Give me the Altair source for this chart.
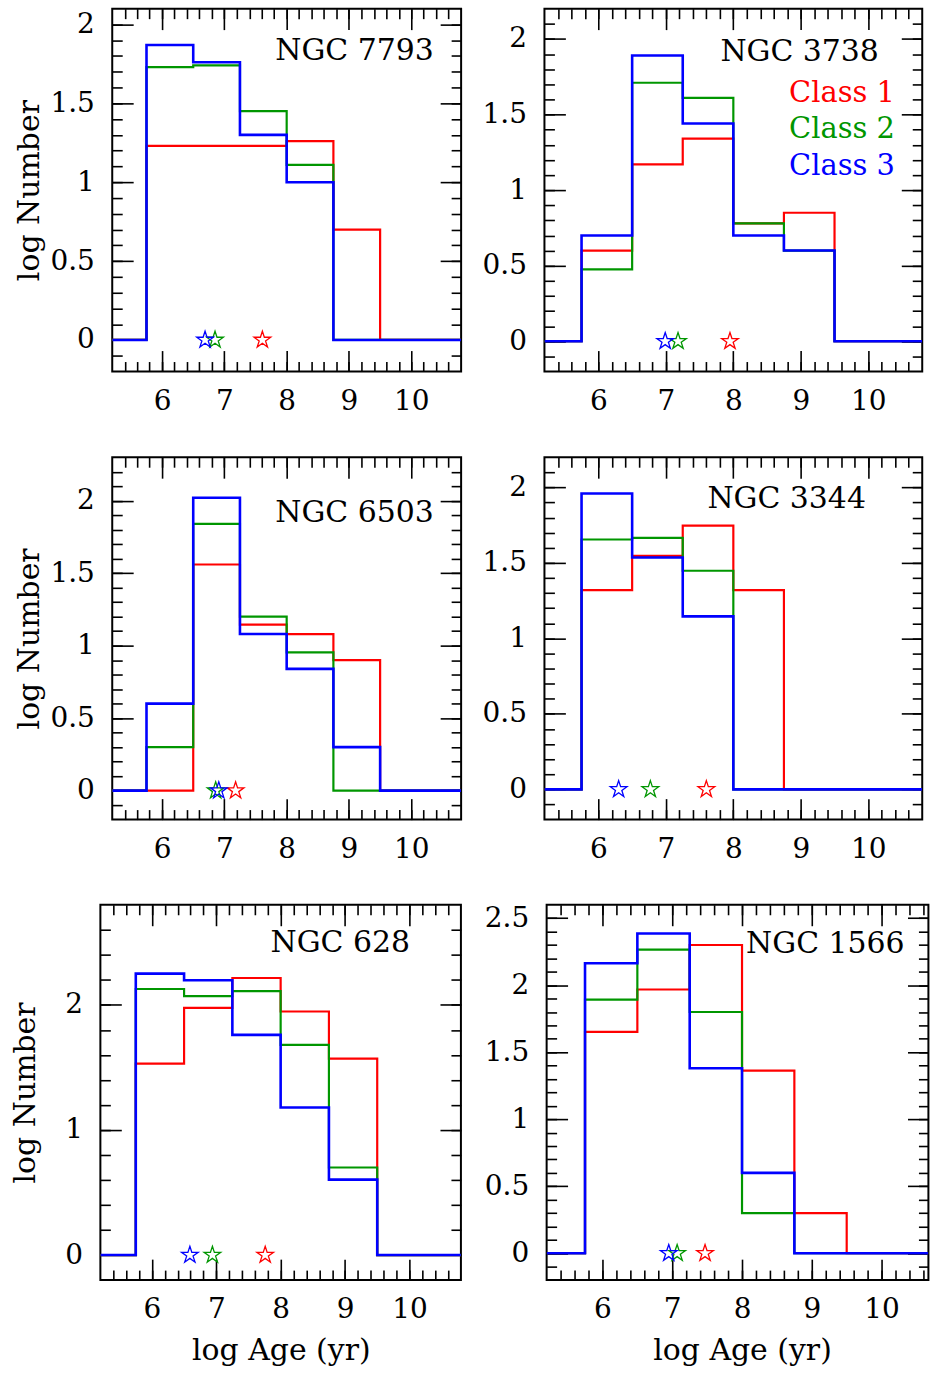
import altair as alt
import pandas as pd

FONT = "DejaVu Serif"
CLASSES = ["Class 1", "Class 2", "Class 3"]
COLORS = ["#ff0000", "#009600", "#0000ff"]
LINE_W = [2.2, 2.2, 2.6]
STAR_PATH = ("M0,-1L0.2245,-0.309L0.951,-0.309L0.363,0.118L0.588,0.809L0,0.382"
             "L-0.588,0.809L-0.363,0.118L-0.951,-0.309L-0.2245,-0.309Z")

GALAXIES = ["NGC 7793", "NGC 3738", "NGC 6503", "NGC 3344", "NGC 628", "NGC 1566"]
# left edges of the non-empty log-age bins, last bin ends at 9.5
BIN_LEFT = [5.75, 6.5, 7.25, 8.0, 8.75]
BIN_END = 9.5

# log Number per bin (Class 1, Class 2, Class 3)
N7793_C1 = [1.23, 1.23, 1.23, 1.26, 0.70]
N7793_C2 = [1.73, 1.74, 1.45, 1.11, 0.0]
N7793_C3 = [1.87, 1.76, 1.30, 1.00, 0.0]
N3738_C1 = [0.60, 1.17, 1.34, 0.78, 0.85]
N3738_C2 = [0.475, 1.71, 1.61, 0.78, 0.60]
N3738_C3 = [0.70, 1.89, 1.44, 0.70, 0.60]
N6503_C1 = [0.0, 1.56, 1.145, 1.08, 0.90]
N6503_C2 = [0.30, 1.84, 1.20, 0.954, 0.0]
N6503_C3 = [0.60, 2.02, 1.08, 0.84, 0.30]
N3344_C1 = [1.32, 1.547, 1.747, 1.32, 0.0]
N3344_C2 = [1.655, 1.666, 1.448, 0.0, 0.0]
N3344_C3 = [1.96, 1.536, 1.146, 0.0, 0.0]
N628_C1 = [1.53, 1.976, 2.215, 1.947, 1.57]
N628_C2 = [2.127, 2.07, 2.11, 1.68, 0.70]
N628_C3 = [2.25, 2.197, 1.76, 1.18, 0.603]
N1566_C1 = [1.652, 1.968, 2.30, 1.363, 0.30]
N1566_C2 = [1.893, 2.266, 1.80, 0.30, 0.0]
N1566_C3 = [2.164, 2.386, 1.38, 0.60, 0.0]

# mean log age (stars) per class
N7793_STARS = [7.61, 6.85, 6.69]
N3738_STARS = [7.95, 7.18, 6.99]
N6503_STARS = [7.18, 6.86, 6.91]
N3344_STARS = [7.60, 6.77, 6.30]
N628_STARS = [7.76, 6.94, 6.59]
N1566_STARS = [7.47, 7.07, 6.95]

VALUES = [
    [N7793_C1, N7793_C2, N7793_C3],
    [N3738_C1, N3738_C2, N3738_C3],
    [N6503_C1, N6503_C2, N6503_C3],
    [N3344_C1, N3344_C2, N3344_C3],
    [N628_C1, N628_C2, N628_C3],
    [N1566_C1, N1566_C2, N1566_C3],
]
STARS = [N7793_STARS, N3738_STARS, N6503_STARS, N3344_STARS, N628_STARS, N1566_STARS]

X_MAJOR = [6, 7, 8, 9, 10]
X_MINOR = [round(5.4 + 0.2 * i, 1) for i in range(27)]
Y_MAJ_HALF = [0, 0.5, 1, 1.5, 2]

# layout (pixels) for each panel
PANELS = [
    dict(w=350, h=364, xdom=(5.2, 10.8), ydom=(-0.2, 2.1), ymaj=Y_MAJ_HALF, ystep=0.1,
         ytitle=True, ytx=-73.7, xtitle=False, lcx=243, lby=51.8, lext=0, bext=103.2),
    dict(w=379, h=364, xdom=(5.2, 10.8), ydom=(-0.2, 2.2), ymaj=Y_MAJ_HALF, ystep=0.1,
         ytitle=False, xtitle=False, lcx=256, lby=52, legend=True, lext=0, bext=103.2),
    dict(w=350, h=363.5, xdom=(5.2, 10.8), ydom=(-0.2, 2.3), ymaj=Y_MAJ_HALF, ystep=0.1,
         ytitle=True, ytx=-73.7, xtitle=False, lcx=243, lby=65, lext=0, bext=103.4),
    dict(w=379, h=363.5, xdom=(5.2, 10.8), ydom=(-0.2, 2.2), ymaj=Y_MAJ_HALF, ystep=0.1,
         ytitle=False, xtitle=False, lcx=243, lby=50.7, lext=0, bext=103.4),
    dict(w=361.7, h=376.5, xdom=(5.2, 10.8), ydom=(-0.2, 2.8), ymaj=[0, 1, 2], ystep=0.2,
         ytitle=True, ytx=-66, xtitle=True, xtx=181, lcx=240.7, lby=47.4, lext=120.3, bext=0),
    dict(w=383, h=376.5, xdom=(5.2, 10.671), ydom=(-0.2, 2.6), ymaj=[0, 0.5, 1, 1.5, 2, 2.5],
         ystep=0.1, ytitle=False, xtitle=True, xtx=196, lcx=279.6, lby=48.8, lext=0, bext=0),
]
LEGEND_X = 245.4
LEGEND_Y = [93.3, 129.3, 166.6]

MAJ = 21
MIN = 10
TICK_W = 1.6
LABEL_FS = 28
NAME_FS = 30
LEGEND_FS = 29
TITLE_FS = 30


def minor_vals(lo, hi, step):
    n = int(round((hi - lo) / step))
    return [round(lo + i * step, 2) for i in range(1, n)]


def axis(orient, values, length, labels=False, ext=0, **kw):
    extra = {}
    if labels:
        extra = dict(labelFont=FONT, labelFontSize=LABEL_FS, labelColor="black",
                     format="~f", labelFlush=False, labelOverlap=False)
    return alt.Axis(orient=orient, values=values, tickSize=length, offset=-length,
                    domain=False, grid=False, ticks=True, tickColor="black",
                    tickWidth=TICK_W, labels=labels, minExtent=ext, maxExtent=ext,
                    **extra, **kw)


def panel(i):
    p = PANELS[i]
    xs = alt.Scale(domain=list(p["xdom"]), nice=False, zero=False)
    ys = alt.Scale(domain=list(p["ydom"]), nice=False, zero=False)
    xmin = [v for v in X_MINOR if p["xdom"][0] < v < p["xdom"][1]]
    ymin = minor_vals(p["ydom"][0], p["ydom"][1], p["ystep"])

    title_kw = dict(titleFont=FONT, titleFontSize=TITLE_FS, titleFontWeight="normal",
                    titleColor="black")
    x_bottom_kw = dict(labelPadding=16)
    if p["xtitle"]:
        x_bottom_kw.update(title_kw)
        x_bottom_kw.update(titleX=p["xtx"], titleY=79.2 + MAJ, titleAlign="center",
                           titleBaseline="alphabetic", titleAngle=0)
    y_left_kw = dict(labelPadding=18)
    if p["ytitle"]:
        y_left_kw.update(title_kw)
        y_left_kw.update(titleX=p["ytx"] - MAJ, titleY=p["h"] / 2, titleAlign="center",
                         titleBaseline="alphabetic", titleAngle=270)

    axes = [
        (axis("bottom", X_MAJOR, MAJ, labels=True, ext=p["bext"], **x_bottom_kw),
         axis("left", p["ymaj"], MAJ, labels=True, ext=p["lext"], **y_left_kw)),
        (axis("bottom", xmin, MIN), axis("left", ymin, MIN)),
        (axis("top", X_MAJOR, MAJ), axis("right", p["ymaj"], MAJ)),
    ]

    layers = []
    for k in range(3):
        d = pd.DataFrame({
            "x": [p["xdom"][0]] + BIN_LEFT + [BIN_END, p["xdom"][1]],
            "y": [0.0] + list(VALUES[i][k]) + [0.0, 0.0],
        })
        xa, ya = axes[k]
        xt = "log Age (yr)" if (k == 0 and p["xtitle"]) else None
        yt = "log Number" if (k == 0 and p["ytitle"]) else None
        layers.append(
            alt.Chart(d).mark_line(interpolate="step-after", clip=True, color=COLORS[k],
                                   strokeWidth=LINE_W[k])
            .encode(x=alt.X("x:Q", scale=xs, axis=xa, title=xt),
                    y=alt.Y("y:Q", scale=ys, axis=ya, title=yt))
        )

    sd = pd.DataFrame({"cls": CLASSES, "age": STARS[i], "y": [0.0, 0.0, 0.0]})
    layers.append(
        alt.Chart(sd).mark_point(shape=STAR_PATH, filled=False, size=310, strokeWidth=1.3,
                                 opacity=1)
        .encode(x=alt.X("age:Q", scale=xs, axis=axis("top", xmin, MIN), title=None),
                y=alt.Y("y:Q", scale=ys, axis=axis("right", ymin, MIN), title=None),
                color=alt.Color("cls:N", scale=alt.Scale(domain=CLASSES, range=COLORS),
                                legend=None))
    )

    layers.append(
        alt.Chart(pd.DataFrame({"t": [GALAXIES[i]]}))
        .mark_text(font=FONT, fontSize=NAME_FS, align="center", baseline="alphabetic",
                   color="black")
        .encode(text="t:N", x=alt.value(p["lcx"]), y=alt.value(p["lby"]))
    )
    if p.get("legend"):
        for k in range(3):
            layers.append(
                alt.Chart(pd.DataFrame({"t": [CLASSES[k]]}))
                .mark_text(font=FONT, fontSize=LEGEND_FS, align="left", baseline="alphabetic",
                           color=COLORS[k])
                .encode(text="t:N", x=alt.value(LEGEND_X), y=alt.value(LEGEND_Y[k]))
            )

    return (alt.layer(*layers)
            .resolve_axis(x="independent", y="independent")
            .properties(width=p["w"], height=p["h"]))


def spacer(w):
    return (alt.Chart(pd.DataFrame({"a": [0]}))
            .mark_point(opacity=0, size=1)
            .encode(x=alt.value(w / 2), y=alt.value(5))
            .properties(width=w, height=10, view=alt.ViewBackground(strokeOpacity=0)))


row1 = alt.hconcat(spacer(14.8), panel(0), panel(1), spacing=83.6, bounds="flush")
row2 = alt.hconcat(spacer(14.8), panel(2), panel(3), spacing=83.6, bounds="flush")
row3 = alt.hconcat(spacer(1), panel(4), panel(5), spacing=85.7, bounds="flush")

chart = (alt.vconcat(row1, row2, row3, spacing=0, bounds="full")
         .properties(padding={"left": 0, "top": 4.5, "right": 0, "bottom": 2},
                     background="white")
         .configure(font=FONT)
         .configure_view(stroke="black", strokeWidth=2))

chart.save("out.html", embed_options={"renderer": "svg", "actions": False})
